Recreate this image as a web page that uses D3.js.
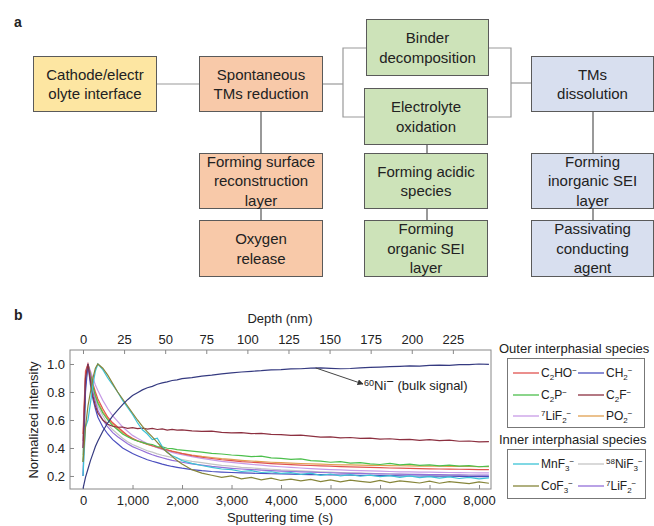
<!DOCTYPE html>
<html>
<head>
<meta charset="utf-8">
<script src="https://cdn.jsdelivr.net/npm/d3@7"></script>
<style>
  body { margin: 0; background: #fff; }
  text { font-family: "Liberation Sans", Arial, sans-serif; fill: #222; }
</style>
</head>
<body>
<script>
// sputtering time samples (s)
const times = [0, 50, 100, 150, 200, 250, 300,
  400, 500, 600, 700, 800, 900, 1000, 1100, 1200, 1300, 1400, 1500, 1600, 1700, 1800, 1900, 2000,
  2200, 2400, 2600, 2800, 3000, 3200, 3400, 3600, 3800, 4000, 4200, 4400, 4600, 4800, 5000, 5200,
  5400, 5600, 5800, 6000, 6200, 6400, 6600, 6800, 7000, 7200, 7400, 7600, 7800, 8000, 8200];

// normalized intensity per species
const c2ho = [0.50,0.95,1.00,0.93,0.86,0.80,0.75, 0.68,0.62,0.58,0.55,0.52,0.49,0.47,0.452,0.44,0.428,0.416,0.405,0.395,0.386,0.376,0.368,0.36,
  0.345,0.334,0.325,0.316,0.31,0.303,0.298,0.293,0.288,0.284,0.281,0.278,0.275,0.272,0.27,0.267,0.265,0.263,0.261,0.259,0.257,0.256,0.254,0.253,0.251,0.25,0.249,0.248,0.247,0.246,0.245];
const ch2 = [0.20,0.80,1.00,0.85,0.75,0.68,0.62, 0.55,0.50,0.46,0.43,0.40,0.38,0.36,0.345,0.33,0.316,0.305,0.295,0.285,0.276,0.268,0.262,0.256,
  0.246,0.238,0.232,0.228,0.225,0.222,0.22,0.218,0.216,0.215,0.213,0.212,0.21,0.209,0.208,0.207,0.206,0.205,0.204,0.203,0.202,0.201,0.2,0.2,0.199,0.198,0.198,0.197,0.196,0.196,0.195];
const c2p = [0.30,0.85,1.00,0.92,0.84,0.77,0.72, 0.65,0.60,0.56,0.53,0.50,0.48,0.462,0.45,0.44,0.43,0.425,0.41,0.408,0.398,0.396,0.388,0.385,
  0.378,0.37,0.362,0.357,0.35,0.346,0.338,0.342,0.33,0.326,0.318,0.322,0.31,0.306,0.298,0.302,0.292,0.296,0.287,0.282,0.29,0.28,0.284,0.276,0.28,0.272,0.278,0.27,0.274,0.266,0.27];
const c2f = [0.40,0.90,1.00,0.88,0.77,0.70,0.65, 0.60,0.57,0.555,0.548,0.55,0.54,0.545,0.538,0.542,0.535,0.54,0.532,0.536,0.528,0.533,0.527,0.53,
  0.522,0.518,0.52,0.512,0.508,0.51,0.502,0.505,0.497,0.495,0.49,0.492,0.485,0.478,0.48,0.472,0.475,0.468,0.47,0.463,0.466,0.46,0.462,0.455,0.46,0.452,0.456,0.448,0.45,0.443,0.446];
const lif2Outer = [0.45,0.90,1.00,0.95,0.90,0.85,0.81, 0.74,0.68,0.63,0.59,0.55,0.52,0.49,0.47,0.45,0.432,0.416,0.402,0.39,0.379,0.369,0.36,0.352,
  0.338,0.326,0.315,0.305,0.297,0.29,0.283,0.277,0.271,0.266,0.261,0.257,0.253,0.249,0.246,0.243,0.24,0.238,0.236,0.234,0.232,0.23,0.229,0.228,0.227,0.226,0.225,0.224,0.223,0.222,0.222];
const po2 = [0.45,0.92,1.00,0.91,0.84,0.78,0.73, 0.66,0.61,0.57,0.54,0.51,0.485,0.465,0.45,0.437,0.425,0.414,0.404,0.394,0.385,0.377,0.37,0.362,
  0.35,0.34,0.332,0.324,0.318,0.312,0.307,0.302,0.298,0.295,0.292,0.289,0.287,0.284,0.282,0.28,0.279,0.277,0.276,0.275,0.274,0.273,0.272,0.271,0.27,0.27,0.269,0.268,0.268,0.267,0.267];
const mnf3 = [0.2,0.55,0.6,0.72,0.85,0.95,1.0, 0.96,0.9,0.85,0.8,0.74,0.69,0.64,0.58,0.53,0.5,0.46,0.47,0.41,0.37,0.345,0.33,0.31,
  0.29,0.275,0.262,0.25,0.245,0.232,0.238,0.225,0.23,0.218,0.224,0.212,0.22,0.205,0.214,0.2,0.21,0.198,0.206,0.195,0.203,0.19,0.2,0.188,0.196,0.185,0.194,0.182,0.19,0.18,0.186];
const nif3 = [0.35,0.85,1.00,0.90,0.82,0.75,0.70, 0.63,0.57,0.53,0.5,0.47,0.445,0.425,0.41,0.395,0.38,0.37,0.358,0.348,0.34,0.332,0.325,0.318,
  0.305,0.295,0.285,0.276,0.27,0.262,0.258,0.252,0.248,0.243,0.24,0.236,0.233,0.23,0.228,0.225,0.222,0.22,0.218,0.216,0.214,0.212,0.211,0.209,0.208,0.206,0.205,0.204,0.202,0.201,0.2];
const cof3 = [0.3,0.55,0.7,0.8,0.9,0.97,1.0, 0.97,0.92,0.86,0.8,0.75,0.7,0.65,0.6,0.555,0.515,0.48,0.44,0.4,0.37,0.34,0.31,0.285,
  0.245,0.22,0.205,0.19,0.2,0.18,0.19,0.172,0.185,0.168,0.178,0.165,0.175,0.16,0.172,0.158,0.17,0.162,0.155,0.168,0.152,0.165,0.158,0.15,0.163,0.148,0.16,0.152,0.145,0.158,0.148];
const lif2Inner = [0.4,0.88,1.00,0.9,0.8,0.73,0.67, 0.6,0.55,0.51,0.48,0.455,0.43,0.41,0.395,0.38,0.365,0.352,0.34,0.33,0.32,0.312,0.305,0.298,
  0.286,0.277,0.268,0.261,0.255,0.25,0.246,0.242,0.238,0.235,0.232,0.229,0.227,0.225,0.223,0.221,0.219,0.218,0.216,0.215,0.214,0.213,0.212,0.211,0.21,0.209,0.208,0.208,0.207,0.206,0.206];
const ni60 = [0.11,0.19,0.25,0.31,0.36,0.41,0.45, 0.52,0.58,0.63,0.67,0.71,0.745,0.775,0.795,0.815,0.83,0.84,0.855,0.865,0.872,0.882,0.886,0.895,
  0.902,0.914,0.921,0.93,0.936,0.943,0.948,0.952,0.958,0.96,0.965,0.966,0.971,0.972,0.969,0.966,0.968,0.972,0.976,0.978,0.981,0.983,0.986,0.985,0.99,0.992,0.99,0.995,0.996,1.0,0.998];

const outerNames = ["C_{2}HO^{−}", "CH_{2}^{−}", "C_{2}P^{−}", "C_{2}F^{−}", "^{7}LiF_{2}^{−}", "PO_{2}^{−}"];
const outerSeries = [c2ho, ch2, c2p, c2f, lif2Outer, po2];
const outerColors = ["#e0534f", "#4b4fbf", "#4cbf4c", "#8c3040", "#c79be6", "#e0a050"];
const innerNames = ["MnF_{3}^{−}", "^{58}NiF_{3}^{−}", "CoF_{3}^{−}", "^{7}LiF_{2}^{−}"];
const innerSeries = [mnf3, nif3, cof3, lif2Inner];
const innerColors = ["#3cc3d6", "#c4c4c4", "#86853a", "#9470d8"];

const timeTicks = [0, 1000, 2000, 3000, 4000, 5000, 6000, 7000, 8000];
const depthTicks = [0, 25, 50, 75, 100, 125, 150, 175, 200, 225];
const intensityTicks = [0.2, 0.4, 0.6, 0.8, 1.0];

// flowchart boxes
const boxes = [
  { lines: ["Cathode/electr", "olyte interface"], fill: "#fde6a2", x: 33, y: 56, w: 124, h: 56 },
  { lines: ["Spontaneous", "TMs reduction"], fill: "#f8c9a9", x: 199, y: 56, w: 124, h: 56 },
  { lines: ["Forming surface", "reconstruction", "layer"], fill: "#f8c9a9", x: 199, y: 153, w: 124, h: 56 },
  { lines: ["Oxygen", "release"], fill: "#f8c9a9", x: 199, y: 220, w: 124, h: 57 },
  { lines: ["Binder", "decomposition"], fill: "#cde3b9", x: 366, y: 19, w: 123, h: 57 },
  { lines: ["Electrolyte", "oxidation"], fill: "#cde3b9", x: 364, y: 88, w: 124, h: 57 },
  { lines: ["Forming acidic", "species"], fill: "#cde3b9", x: 364, y: 153, w: 124, h: 56 },
  { lines: ["Forming", "organic SEI", "layer"], fill: "#cde3b9", x: 364, y: 220, w: 124, h: 57 },
  { lines: ["TMs", "dissolution"], fill: "#d8dfef", x: 531, y: 56, w: 123, h: 56 },
  { lines: ["Forming", "inorganic SEI", "layer"], fill: "#d8dfef", x: 531, y: 153, w: 123, h: 56 },
  { lines: ["Passivating", "conducting", "agent"], fill: "#d8dfef", x: 531, y: 220, w: 123, h: 57 }
];
// connectors: light bracket lines and darker vertical links
const lightLinks = [
  [[157, 84], [199, 84]],
  [[323, 84], [343, 84]],
  [[366, 48], [343, 48], [343, 117], [364, 117]],
  [[489, 48], [511, 48], [511, 117], [488, 117]],
  [[511, 83], [531, 83]]
];
const darkLinks = [
  [[261, 112], [261, 153]], [[261, 209], [261, 220]],
  [[427, 145], [427, 153]], [[427, 209], [427, 220]],
  [[593, 112], [593, 153]], [[593, 209], [593, 220]]
];

const svg = d3.select("body").append("svg")
  .attr("width", 654).attr("height", 526);

svg.append("text").attr("x", 14).attr("y", 27)
  .attr("font-size", 14).attr("font-weight", "bold").text("a");
svg.append("text").attr("x", 14).attr("y", 320)
  .attr("font-size", 14).attr("font-weight", "bold").text("b");

// --- part a ---
const lk = d3.line();
svg.append("g").selectAll("path").data(lightLinks).enter().append("path")
  .attr("d", d => lk(d)).attr("fill", "none")
  .attr("stroke", "#999").attr("stroke-width", 1.2);
svg.append("g").selectAll("path").data(darkLinks).enter().append("path")
  .attr("d", d => lk(d)).attr("fill", "none")
  .attr("stroke", "#555").attr("stroke-width", 1.2);

const bg = svg.append("g").selectAll("g").data(boxes).enter().append("g");
bg.append("rect")
  .attr("x", d => d.x + 0.5).attr("y", d => d.y + 0.5)
  .attr("width", d => d.w - 1).attr("height", d => d.h - 1)
  .attr("fill", d => d.fill).attr("stroke", "#5a5a5a").attr("stroke-width", 1);
bg.each(function(d) {
  const g = d3.select(this);
  const lh = 19.5;
  const cy = d.y + d.h / 2 - (d.lines.length - 1) * lh / 2;
  d.lines.forEach((l, i) => {
    g.append("text").attr("x", d.x + d.w / 2).attr("y", cy + i * lh)
      .attr("dy", "0.36em").attr("text-anchor", "middle")
      .attr("font-size", 15).text(l);
  });
});

// --- part b ---
const x = d3.scaleLinear().domain([-263, 8242]).range([70, 491]);
const xDepth = d3.scaleLinear().domain([-7.9, 248.2]).range([70, 491]);
const y = d3.scaleLinear().domain([0.107, 1.1]).range([489, 350]);

svg.append("rect").attr("x", 70).attr("y", 350)
  .attr("width", 421).attr("height", 139)
  .attr("fill", "none").attr("stroke", "#888");

function styleAxis(g) {
  g.select(".domain").remove();
  g.selectAll("line").attr("stroke", "#888");
  g.selectAll("text").attr("font-size", 13)
    .attr("font-family", "'Liberation Sans', Arial, sans-serif").attr("fill", "#222");
}

svg.append("g").attr("transform", "translate(0,489)")
  .call(d3.axisBottom(x).tickValues(timeTicks).tickFormat(d3.format(",")).tickSizeInner(-4).tickSizeOuter(0).tickPadding(7))
  .call(styleAxis);
svg.append("g").attr("transform", "translate(0,350)")
  .call(d3.axisTop(xDepth).tickValues(depthTicks).tickSizeInner(-4).tickSizeOuter(0).tickPadding(6))
  .call(styleAxis);
svg.append("g").attr("transform", "translate(70,0)")
  .call(d3.axisLeft(y).tickValues(intensityTicks).tickFormat(d3.format(".1f")).tickSizeInner(-4).tickSizeOuter(0).tickPadding(5))
  .call(styleAxis);

svg.append("text").attr("x", 280).attr("y", 323).attr("text-anchor", "middle")
  .attr("font-size", 13).text("Depth (nm)");
svg.append("text").attr("x", 280).attr("y", 522).attr("text-anchor", "middle")
  .attr("font-size", 13).text("Sputtering time (s)");
svg.append("text").attr("transform", "translate(38,420) rotate(-90)")
  .attr("text-anchor", "middle").attr("font-size", 13).text("Normalized intensity");

svg.append("clipPath").attr("id", "plotclip").append("rect")
  .attr("x", 70).attr("y", 350).attr("width", 421).attr("height", 139);

const line = d3.line().x((d, i) => x(times[i])).y(d => y(d));
const allSeries = outerSeries.concat(innerSeries).concat([ni60]);
const allColors = outerColors.concat(innerColors).concat(["#353a80"]);
const drawOrder = [7, 5, 4, 0, 2, 9, 1, 3, 6, 8, 10];
svg.append("g").attr("clip-path", "url(#plotclip)")
  .selectAll("path").data(drawOrder).enter().append("path")
  .attr("d", k => line(allSeries[k]))
  .attr("fill", "none").attr("stroke", k => allColors[k]).attr("stroke-width", 1.2);

// annotation
svg.append("defs").append("marker").attr("id", "arr")
  .attr("viewBox", "0 0 10 10").attr("refX", 9).attr("refY", 5)
  .attr("markerWidth", 6).attr("markerHeight", 6).attr("orient", "auto")
  .append("path").attr("d", "M0,0L10,5L0,10z").attr("fill", "#333");
svg.append("line").attr("x1", x(4700)).attr("y1", y(0.972))
  .attr("x2", 363).attr("y2", 384).attr("stroke", "#444").attr("stroke-width", 1)
  .attr("marker-end", "url(#arr)");
const ann = svg.append("text").attr("x", 364).attr("y", 390).attr("font-size", 13);
ann.append("tspan").attr("font-size", 9).attr("dy", -4).text("60");
ann.append("tspan").attr("dy", 4).text("Ni");
ann.append("tspan").attr("dy", -4).text("−");
ann.append("tspan").attr("dy", 4).text(" (bulk signal)");

// legend
function richText(sel, s) {
  const parts = s.match(/(_\{[^}]*\}|\^\{[^}]*\}|[^_^]+)/g);
  let shift = 0;
  parts.forEach(p => {
    let t = p, target = 0, small = false;
    if (p[0] === "_") { t = p.slice(2, -1); target = 3; small = true; }
    else if (p[0] === "^") { t = p.slice(2, -1); target = -4; small = true; }
    sel.append("tspan").attr("dy", target - shift)
      .attr("font-size", small ? 8 : 12).text(t);
    shift = target;
  });
}

function legendBlock(title, names, colors, ty, box, rows) {
  svg.append("text").attr("x", 499).attr("y", ty).attr("font-size", 13).text(title);
  svg.append("rect").attr("x", box[0] + 0.5).attr("y", box[1] + 0.5)
    .attr("width", box[2]).attr("height", box[3])
    .attr("fill", "none").attr("stroke", "#777");
  names.forEach((n, i) => {
    const col = i % 2, row = Math.floor(i / 2);
    const lx = col === 0 ? 513 : 578;
    const ly = rows[row];
    svg.append("line").attr("x1", lx).attr("x2", lx + 26)
      .attr("y1", ly).attr("y2", ly).attr("stroke", colors[i]).attr("stroke-width", 1.3);
    const t = svg.append("text").attr("x", lx + 28).attr("y", ly + 4);
    richText(t, n);
  });
}
legendBlock("Outer interphasial species", outerNames, outerColors, 353, [507, 358, 137, 69], [373, 395, 416]);
legendBlock("Inner interphasial species", innerNames, innerColors, 444, [507, 449, 138, 49], [464, 486]);
</script>
</body>
</html>
